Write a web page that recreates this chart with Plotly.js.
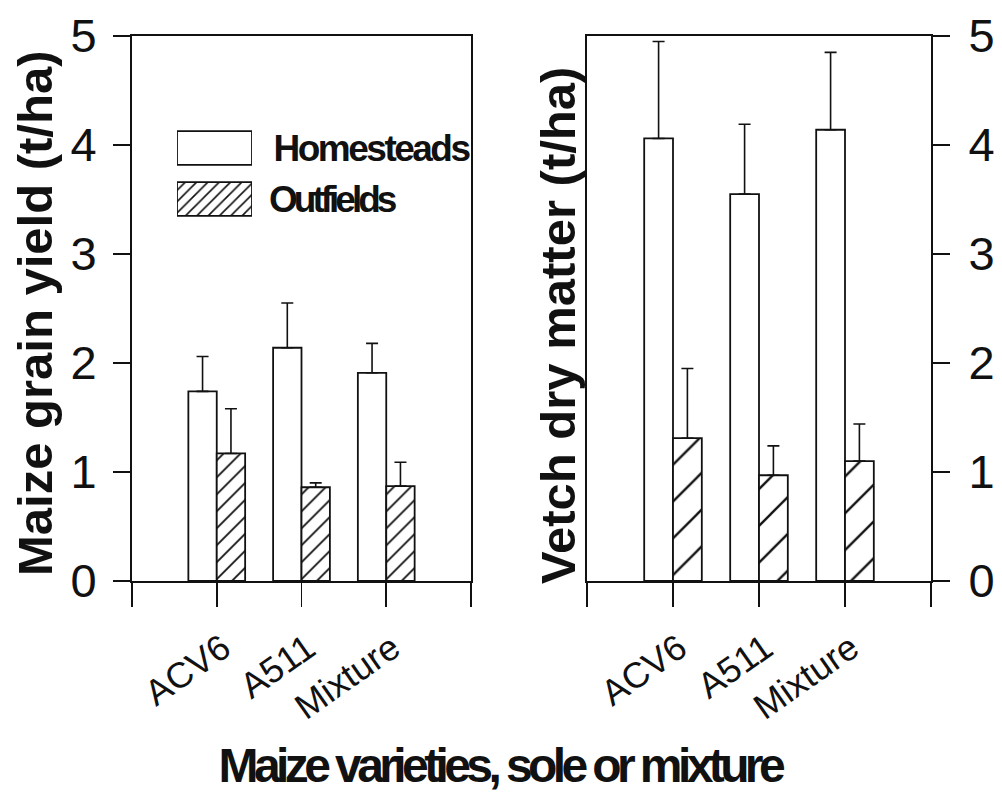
<!DOCTYPE html>
<html>
<head>
<meta charset="utf-8">
<script src="https://cdn.plot.ly/plotly-3.0.1.min.js"></script>
<style>
  html, body { margin: 0; padding: 0; background: #fff; }
  #chart { width: 1002px; height: 795px; }
</style>
</head>
<body>
<div id="chart"></div>
<script>
// Maize varieties grown sole or as a mixture
const categories = ['ACV6', 'A511', 'Mixture'];

// Maize grain yield (t/ha)
const maizeHome    = [1.74, 2.14, 1.91];
const maizeHomeErr = [0.32, 0.41, 0.27];
const maizeOut     = [1.17, 0.86, 0.87];
const maizeOutErr  = [0.41, 0.04, 0.22];

// Vetch dry matter (t/ha)
const vetchHome    = [4.06, 3.55, 4.14];
const vetchHomeErr = [0.89, 0.64, 0.71];
const vetchOut     = [1.31, 0.97, 1.10];
const vetchOutErr  = [0.64, 0.27, 0.34];

const seriesNames = ['Homesteads', 'Outfields'];
const yTicks = [0, 1, 2, 3, 4, 5];

// ---- helpers -------------------------------------------------------------
const W = 1002, H = 795;
const px = v => v / W;            // horizontal pixel -> paper fraction
const py = v => 1 - v / H;        // vertical pixel -> paper fraction

const FONT = 'Liberation Sans, Arial, Helvetica, sans-serif';
const xPos = categories.map((c, i) => i + 1);
const tickPos = [0].concat(xPos, [categories.length + 1]);
const tickTxt = [''].concat(categories, ['']);
const noDown = arr => arr.map(() => 0);

function errBar(arr) {
  return {
    type: 'data', array: arr, arrayminus: noDown(arr), symmetric: false,
    color: '#111', thickness: 1.6, width: 6
  };
}

function barTrace(name, y, err, xa, ya, hatchSize, solidity) {
  const marker = { color: '#ffffff', line: { color: '#111', width: 1.8 } };
  if (hatchSize) {
    marker.pattern = { shape: '/', size: hatchSize, solidity: solidity,
                       fgcolor: '#111', bgcolor: '#ffffff' };
  }
  return {
    type: 'bar', name: name, x: xPos, y: y, xaxis: xa, yaxis: ya,
    marker: marker, error_y: errBar(err), showlegend: false, hoverinfo: 'y'
  };
}

// legend swatches drawn on their own small hidden axes
function swatch(name, yIdx, hatch) {
  const marker = { color: '#ffffff', line: { color: '#111', width: 1.8 } };
  if (hatch) {
    marker.pattern = { shape: '/', size: 8, solidity: 0.2,
                       fgcolor: '#111', bgcolor: '#ffffff' };
  }
  return {
    type: 'bar', orientation: 'h', name: name, x: [1], y: [yIdx],
    width: 0.66, offset: -0.33, base: 0,
    xaxis: 'x3', yaxis: 'y3', marker: marker,
    showlegend: false, hoverinfo: 'skip'
  };
}

const data = [
  barTrace(seriesNames[0], maizeHome, maizeHomeErr, 'x', 'y', 0, 0),
  barTrace(seriesNames[1], maizeOut, maizeOutErr, 'x', 'y', 12, 0.15),
  barTrace(seriesNames[0], vetchHome, vetchHomeErr, 'x2', 'y2', 0, 0),
  barTrace(seriesNames[1], vetchOut, vetchOutErr, 'x2', 'y2', 26, 0.09),
  swatch(seriesNames[0], 1, false),
  swatch(seriesNames[1], 0, true)
];

const xCommon = {
  range: [0, categories.length + 1],
  tickmode: 'array', tickvals: tickPos, ticktext: tickTxt,
  tickangle: -35, tickfont: { family: FONT, size: 36, color: '#111' },
  ticklabelstandoff: 6, ticklabelshift: 6,
  ticks: 'outside', ticklen: 24, tickwidth: 1.6, tickcolor: '#111',
  showline: true, mirror: true, linecolor: '#111', linewidth: 2,
  showgrid: false, zeroline: false, fixedrange: true
};
const yCommon = {
  range: [0, 5], tickmode: 'array', tickvals: yTicks,
  tickfont: { family: FONT, size: 47, color: '#111' },
  ticks: 'outside', ticklen: 17, tickwidth: 1.6, tickcolor: '#111',
  showline: true, mirror: true, linecolor: '#111', linewidth: 2,
  showgrid: false, zeroline: false, fixedrange: true
};

const yDomain = [py(581), py(36)];

const layout = {
  width: W, height: H,
  margin: { l: 0, r: 0, t: 0, b: 0, pad: 0 },
  paper_bgcolor: '#ffffff', plot_bgcolor: '#ffffff',
  font: { family: FONT, color: '#111' },
  showlegend: false,
  barmode: 'group', bargap: 0.33, bargroupgap: 0,
  xaxis:  Object.assign({}, xCommon, { domain: [px(132), px(471)], anchor: 'y' }),
  yaxis:  Object.assign({}, yCommon, { domain: yDomain, anchor: 'x', side: 'left',
                                       ticklabelstandoff: 7 }),
  xaxis2: Object.assign({}, xCommon, { domain: [px(587), px(931)], anchor: 'y2' }),
  yaxis2: Object.assign({}, yCommon, { domain: yDomain, anchor: 'x2', side: 'right',
                                       ticklabelstandoff: 9 }),
  xaxis3: { domain: [px(177), px(252)], range: [0, 1], visible: false,
            anchor: 'y3', fixedrange: true },
  yaxis3: { domain: [py(224.5), py(122.5)], range: [-0.5, 1.5], visible: false,
            anchor: 'x3', fixedrange: true },
  annotations: [
    { text: 'Maize grain yield (t/ha)', textangle: -90, showarrow: false,
      xref: 'paper', yref: 'paper', x: px(35), y: py(314),
      xanchor: 'center', yanchor: 'middle',
      font: { family: FONT, size: 49, color: '#111', weight: 'bold' } },
    { text: 'Vetch dry matter (t/ha)', textangle: -90, showarrow: false,
      xref: 'paper', yref: 'paper', x: px(558), y: py(326),
      xanchor: 'center', yanchor: 'middle',
      font: { family: FONT, size: 49, color: '#111', weight: 'bold' } },
    { text: 'Maize varieties, sole or mixture', showarrow: false,
      xref: 'paper', yref: 'paper', x: px(500), y: py(765),
      xanchor: 'center', yanchor: 'middle',
      font: { family: FONT, size: 48, color: '#111', weight: 'bold' } },
    { text: seriesNames[0], showarrow: false,
      xref: 'paper', yref: 'paper', x: px(371), y: py(149),
      xanchor: 'center', yanchor: 'middle',
      font: { family: FONT, size: 37, color: '#111', weight: 'bold' } },
    { text: seriesNames[1], showarrow: false,
      xref: 'paper', yref: 'paper', x: px(331), y: py(200),
      xanchor: 'center', yanchor: 'middle',
      font: { family: FONT, size: 37, color: '#111', weight: 'bold' } }
  ]
};

// tight letter tracking for the condensed captions (by annotation index)
const tracking = { 2: -4.6, 3: -2.5, 4: -4 };

Plotly.newPlot('chart', data, layout, { staticPlot: true, displayModeBar: false })
  .then(gd => {
    gd.querySelectorAll('g.annotation').forEach(g => {
      const i = +g.getAttribute('data-index');
      if (tracking[i] !== undefined) {
        const t = g.querySelector('text');
        if (t) t.style.letterSpacing = tracking[i] + 'px';
      }
    });
  });
</script>
</body>
</html>
